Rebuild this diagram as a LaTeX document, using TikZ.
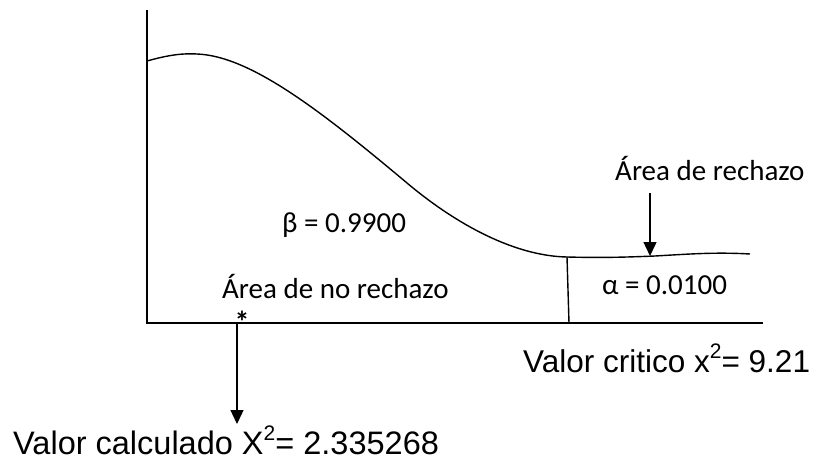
\documentclass[tikz,border=0pt]{standalone}
\usepackage{fontspec}
\setmainfont{Carlito}
\newfontfamily\arialf{Liberation Sans}
\usetikzlibrary{arrows.meta}
\newcommand{\supsq}{\raisebox{0.42em}{\fontsize{21}{22}\selectfont 2}}
\begin{document}
\begin{tikzpicture}[x=1pt,y=-1pt,
  lbl/.style={font=\fontsize{29}{32}\selectfont, inner sep=0pt, anchor=base west},
  big/.style={font=\arialf\fontsize{31.5}{34}\selectfont, inner sep=0pt, anchor=base west},
  ln/.style={line width=1.4pt},
  arr/.style={line width=1.4pt,-{Triangle[length=14pt,width=13pt]}}]
\useasboundingbox (0,0) rectangle (813,460);
% axes
\coordinate (top) at (147,10);
\coordinate (origin) at (147,323);
\coordinate (xend) at (763,323);
\draw[ln] (top) -- (origin) -- (xend);
% curve
\draw[ln] (147,61) .. controls (165,56) and (180,53) .. (197,54)
  .. controls (250,56) and (320,110) .. (407,183)
  .. controls (457,225) and (515,256) .. (567,257)
  .. controls (605,258) and (630,257) .. (655,256)
  .. controls (690,254) and (715,252) .. (750,254);
% critical line
\coordinate (ctop) at (567,257);
\coordinate (cbot) at (569,323);
\draw[ln] (ctop) -- (cbot);
% labels
\node[lbl] (beta) at (282,232) {β = 0.9900};
\node[lbl] (noreg) at (222,298) {Área de no rechazo};
\node[lbl] (alpha) at (602,294) {α = 0.0100};
\node[lbl] (reg) at (615,180) {Área de rechazo};
\node[big] (crit) at (523,372) {Valor critico x\supsq= 9.21};
\node[big, font=\arialf\fontsize{32.5}{35}\selectfont] (calc) at (13,454) {Valor calculado X\supsq= 2.335268};
% rejection arrow
\coordinate (rs) at (650,193);
\coordinate (re) at (650,256);
\draw[arr] (rs) -- (re);
% star and calc arrow
\node[font=\fontsize{30}{32}\selectfont\bfseries, inner sep=0pt] (star) at (242,322) {*};
\coordinate (cs) at (237,323);
\coordinate (ce) at (237,424);
\draw[arr] (cs) -- (ce);
\end{tikzpicture}
\end{document}
